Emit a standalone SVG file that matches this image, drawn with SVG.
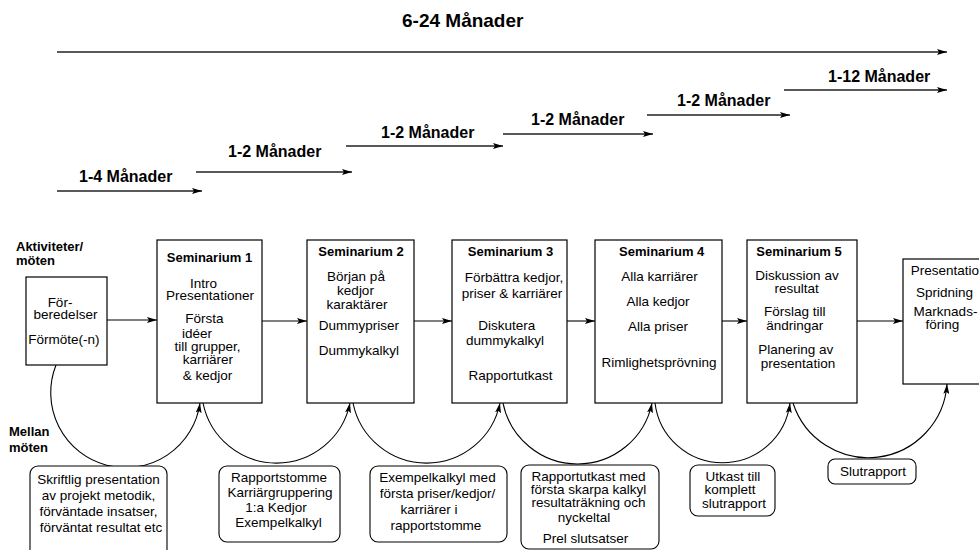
<svg xmlns="http://www.w3.org/2000/svg" width="979" height="550" viewBox="0 0 979 550">
<style>
text{font-family:"Liberation Sans",Arial,Helvetica,sans-serif;fill:#000}
.t{font-size:13.5px;text-anchor:middle}
.h{font-size:13px;font-weight:bold;text-anchor:middle}
.lb{font-size:13px;font-weight:bold}
.m{font-size:16px;font-weight:bold}
.big{font-size:19px;font-weight:bold}
.box{fill:#fff;stroke:#000;stroke-width:1.2}
.rb{fill:#fff;stroke:#000;stroke-width:1.1}
.ln{fill:none;stroke:#000;stroke-width:1.1;marker-end:url(#ah)}
.tl{fill:none;stroke:#222;stroke-width:1.6;marker-end:url(#ah)}
</style>
<defs>
<marker id="ah" viewBox="0 0 10 6" refX="10" refY="3" markerWidth="10" markerHeight="6" markerUnits="userSpaceOnUse" orient="auto">
<path d="M0,0 L10,3 L0,6 L2,3 z" fill="#000"/>
</marker>
</defs>

<g id="timeline">
<text class="big" x="402" y="27">6-24 Månader</text>
<text class="m" x="79" y="182">1-4 Månader</text>
<text class="m" x="228" y="157">1-2 Månader</text>
<text class="m" x="381" y="138">1-2 Månader</text>
<text class="m" x="531" y="125">1-2 Månader</text>
<text class="m" x="677" y="106">1-2 Månader</text>
<text class="m" x="828" y="82">1-12 Månader</text>
</g>

<g id="labels">
<text class="lb" x="16" y="251">Aktiviteter/</text>
<text class="lb" x="16" y="265">möten</text>
<text class="lb" x="9" y="436">Mellan</text>
<text class="lb" x="9" y="452">möten</text>
</g>

<g id="connectors">
<line class="tl" x1="57" y1="52" x2="947" y2="52"/>
<line class="tl" x1="57" y1="191" x2="202" y2="191"/>
<line class="tl" x1="196" y1="172" x2="352" y2="172"/>
<line class="tl" x1="346" y1="146" x2="503" y2="146"/>
<line class="tl" x1="503" y1="134" x2="653" y2="134"/>
<line class="tl" x1="647" y1="115" x2="790" y2="115"/>
<line class="tl" x1="784" y1="90" x2="947" y2="90"/>

<line class="ln" x1="107" y1="320" x2="157" y2="320"/>
<line class="ln" x1="262" y1="321" x2="307" y2="321"/>
<line class="ln" x1="414" y1="321" x2="452" y2="321"/>
<line class="ln" x1="567" y1="321" x2="595" y2="321"/>
<line class="ln" x1="722" y1="321" x2="747" y2="321"/>
<line class="ln" x1="857" y1="321" x2="903" y2="321"/>

<path class="ln" d="M56,365 A75,75 0 1 0 200,403"/>
<path class="ln" d="M203,403 A75,75 0 0 0 350,403"/>
<path class="ln" d="M353,403 A75,75 0 0 0 500,403"/>
<path class="ln" d="M503,403 A76,76 0 0 0 652,403"/>
<path class="ln" d="M655,403 A68,68 0 0 0 790,403"/>
<path class="ln" d="M793,403 A79,79 0 0 0 947,384"/>
</g>

<g id="forberedelser">
<rect class="box" x="26" y="277" width="81" height="88"/>
<text class="t" x="60" y="307">För-</text>
<text class="t" x="65.5" y="319">beredelser</text>
<text class="t" x="64" y="344">Förmöte(-n)</text>
</g>

<g id="seminarium1">
<rect class="box" x="157" y="240" width="105" height="163"/>
<text class="h" x="209.5" y="262">Seminarium 1</text>
<text class="t" x="203.5" y="288">Intro</text>
<text class="t" x="210" y="300">Presentationer</text>
<text class="t" x="204.5" y="323">Första</text>
<text class="t" x="197" y="338">idéer</text>
<text class="t" x="207.5" y="351">till grupper,</text>
<text class="t" x="208" y="364">karriärer</text>
<text class="t" x="207.5" y="380">&amp; kedjor</text>
</g>

<g id="seminarium2">
<rect class="box" x="307" y="240" width="107" height="163"/>
<text class="h" x="361" y="256">Seminarium 2</text>
<text class="t" x="356" y="281">Början på</text>
<text class="t" x="355.5" y="295">kedjor</text>
<text class="t" x="357" y="309">karaktärer</text>
<text class="t" x="359" y="330">Dummypriser</text>
<text class="t" x="359" y="355">Dummykalkyl</text>
</g>

<g id="seminarium3">
<rect class="box" x="452" y="240" width="115" height="163"/>
<text class="h" x="510.5" y="256">Seminarium 3</text>
<text class="t" x="514" y="282">Förbättra kedjor,</text>
<text class="t" x="512" y="298">priser &amp; karriärer</text>
<text class="t" x="506.7" y="330">Diskutera</text>
<text class="t" x="505" y="345">dummykalkyl</text>
<text class="t" x="510.5" y="380">Rapportutkast</text>
</g>

<g id="seminarium4">
<rect class="box" x="595" y="240" width="127" height="163"/>
<text class="h" x="661.7" y="256">Seminarium 4</text>
<text class="t" x="659.5" y="281">Alla karriärer</text>
<text class="t" x="658" y="306">Alla kedjor</text>
<text class="t" x="658" y="331">Alla priser</text>
<text class="t" x="659" y="367">Rimlighetsprövning</text>
</g>

<g id="seminarium5">
<rect class="box" x="747" y="240" width="110" height="163"/>
<text class="h" x="799" y="256">Seminarium 5</text>
<text class="t" x="797" y="280">Diskussion av</text>
<text class="t" x="796.7" y="293">resultat</text>
<text class="t" x="794.7" y="316">Förslag till</text>
<text class="t" x="794.7" y="330">ändringar</text>
<text class="t" x="795.8" y="354">Planering av</text>
<text class="t" x="798" y="368">presentation</text>
</g>

<g id="presentation">
<rect class="box" x="903" y="259" width="90" height="125"/>
<text class="t" x="910.7" y="275" style="text-anchor:start">Presentation</text>
<text class="t" x="944.5" y="297">Spridning</text>
<text class="t" x="945.5" y="316">Marknads-</text>
<text class="t" x="942.5" y="329">föring</text>
</g>

<g id="mellan1">
<rect class="rb" x="30" y="466" width="137" height="96" rx="8"/>
<text class="t" x="98.5" y="484">Skriftlig presentation</text>
<text class="t" x="98.5" y="500">av projekt metodik,</text>
<text class="t" x="98.5" y="516">förväntade insatser,</text>
<text class="t" x="101" y="532">förväntat resultat etc</text>
</g>

<g id="mellan2">
<rect class="rb" x="219" y="466" width="121" height="76" rx="8"/>
<text class="t" x="279" y="482">Rapportstomme</text>
<text class="t" x="280" y="497">Karriärgruppering</text>
<text class="t" x="276" y="512">1:a Kedjor</text>
<text class="t" x="278.5" y="527">Exempelkalkyl</text>
</g>

<g id="mellan3">
<rect class="rb" x="370" y="466" width="137" height="76" rx="8"/>
<text class="t" x="437.5" y="482">Exempelkalkyl med</text>
<text class="t" x="437.5" y="498">första priser/kedjor/</text>
<text class="t" x="429" y="514">karriärer i</text>
<text class="t" x="436" y="530">rapportstomme</text>
</g>

<g id="mellan4">
<rect class="rb" x="521" y="465" width="138" height="84" rx="8"/>
<text class="t" x="588.5" y="481">Rapportutkast med</text>
<text class="t" x="588.5" y="494">första skarpa kalkyl</text>
<text class="t" x="588.5" y="507">resultaträkning och</text>
<text class="t" x="584" y="522">nyckeltal</text>
<text class="t" x="585.5" y="543">Prel slutsatser</text>
</g>

<g id="mellan5">
<rect class="rb" x="690" y="465" width="85" height="51" rx="8"/>
<text class="t" x="733" y="481">Utkast till</text>
<text class="t" x="730" y="494">komplett</text>
<text class="t" x="734" y="508">slutrapport</text>
</g>

<g id="mellan6">
<rect class="rb" x="828" y="459" width="88" height="25" rx="7"/>
<text class="t" x="873" y="476">Slutrapport</text>
</g>
</svg>
